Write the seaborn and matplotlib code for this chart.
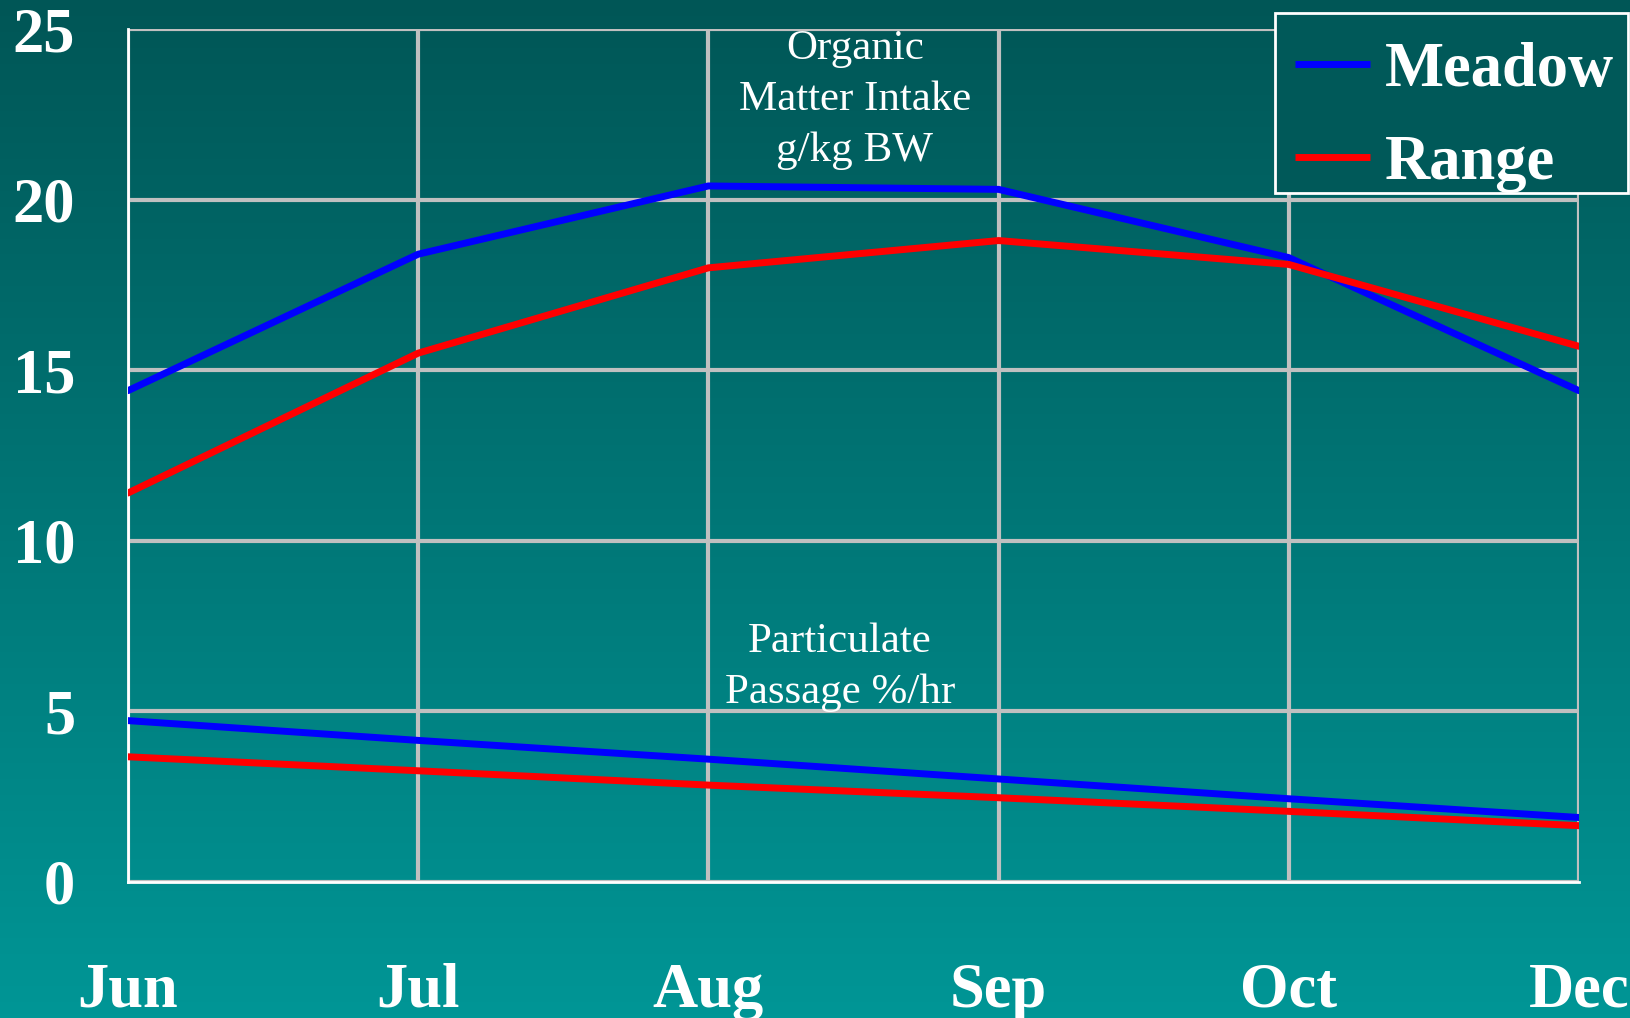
import numpy as np
import pandas as pd
import matplotlib
matplotlib.use("Agg")
import matplotlib.pyplot as plt
from matplotlib.colors import LinearSegmentedColormap
from matplotlib.patches import Rectangle
import seaborn as sns

# data
months = ["Jun", "Jul", "Aug", "Sep", "Oct", "Dec"]
meadow_intake = [14.4, 18.4, 20.4, 20.3, 18.3, 14.4]
range_intake = [11.4, 15.5, 18.0, 18.8, 18.1, 15.7]
meadow_passage = [4.73, 4.15, 3.6, 3.02, 2.44, 1.89]
range_passage = [3.67, 3.26, 2.84, 2.47, 2.07, 1.65]

rows = []
for site, measure, vals in [("Meadow", "intake", meadow_intake),
                            ("Range", "intake", range_intake),
                            ("Meadow", "passage", meadow_passage),
                            ("Range", "passage", range_passage)]:
    for i, v in enumerate(vals):
        rows.append({"pos": i, "month": months[i], "value": v,
                     "site": site, "measure": measure})
df = pd.DataFrame(rows)

sns.set_style("white")
plt.rcParams["font.family"] = ["Liberation Serif", "DejaVu Serif"]

fig = plt.figure(figsize=(16.3, 10.18), dpi=100)

# gradient background
bg = fig.add_axes([0, 0, 1, 1], zorder=-10)
cmap = LinearSegmentedColormap.from_list("teal", ["#005656", "#009696"])
bg.imshow(np.linspace(0, 1, 256).reshape(-1, 1), aspect="auto", cmap=cmap,
          extent=[0, 1, 0, 1])
bg.axis("off")

ax = fig.add_axes([0.0785, 0.1336, 0.8902, 0.8379])
ax.set_facecolor("none")

sns.lineplot(data=df, x="pos", y="value", hue="site", units="measure",
             estimator=None, palette={"Meadow": "#0000ff", "Range": "#ff0000"},
             lw=5, ax=ax, zorder=3)

ax.set_xlim(0, 5)
ax.set_ylim(0, 25)
ax.set_xticks(range(len(months)))
ax.set_xticklabels(months)
ax.set_yticks([0, 5, 10, 15, 20, 25])
ax.grid(True, color="#c0c0c0", lw=3, zorder=1)
ax.set_axisbelow(True)
for s in ["top", "right"]:
    ax.spines[s].set_visible(False)
for s in ["left", "bottom"]:
    ax.spines[s].set_color("white")
    ax.spines[s].set_linewidth(2)
    ax.spines[s].set_zorder(2)
ax.tick_params(axis="both", length=0, labelsize=45, labelcolor="white")
ax.tick_params(axis="y", pad=38)
ax.tick_params(axis="x", pad=58)
for lab in ax.get_xticklabels() + ax.get_yticklabels():
    lab.set_fontweight("bold")
ax.set_xlabel("")
ax.set_ylabel("")

ax.text(2.505, 22.92, "Organic\nMatter Intake\ng/kg BW", ha="center", va="center",
        multialignment="center", fontsize=31, color="white", linespacing=1.42)
ax.text(2.453, 6.3, "Particulate\nPassage %/hr", ha="center", va="center",
        multialignment="center", fontsize=31, color="white", linespacing=1.42)

# legend box
box = Rectangle((1275 / 1630, 1 - 193 / 1018), 353 / 1630, 180 / 1018,
                transform=fig.transFigure, facecolor="#005959",
                edgecolor="white", lw=2, clip_on=False, zorder=4)
ax.add_patch(box)

leg = ax.legend(loc="upper right", bbox_to_anchor=(0.9988, 0.972),
                bbox_transform=fig.transFigure, borderaxespad=0,
                fontsize=45, handlelength=1.2, handletextpad=0.25,
                labelspacing=0.56, borderpad=0.22, frameon=False, title=None)
leg.set_zorder(5)
for t in leg.get_texts():
    t.set_color("white")
    t.set_fontweight("bold")
for h in leg.get_lines():
    h.set_linewidth(5)
    h.set_solid_capstyle("butt")

fig.savefig("out.png", dpi=100)
